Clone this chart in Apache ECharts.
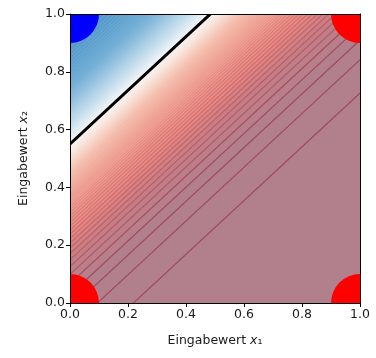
<!DOCTYPE html>
<html>
<head>
<meta charset="utf-8">
<script src="https://cdn.jsdelivr.net/npm/echarts@6/dist/echarts.min.js"></script>
<style>
  html, body { margin: 0; padding: 0; background: #fff; }
  #chart { width: 376px; height: 358px; }
</style>
</head>
<body>
<div id="chart"></div>
<script>
// Trained linear unit: output = sigmoid(w1*x1 + w2*x2 + b)
const weights = [-5.67, 6.1];
const bias = -3.355;

// Training inputs and their target classes (1 = blue, 0 = red)
const inputsX1 = [0, 0, 1, 1];
const inputsX2 = [0, 1, 0, 1];
const targets = [0, 1, 0, 0];

// Filled contour levels of the unit output
const levels = [];
for (let i = 1; i < 100; i++) levels.push(i / 100);

// Colour ramp of the output (position, rgb)
const rampPos = [0.0, 0.034, 0.045, 0.08, 0.131, 0.228, 0.35, 0.454, 0.5, 0.546, 0.65, 0.77, 0.94, 1.0];
const rampRgb = [
  [178, 127, 140], [178, 127, 140], [183, 127, 139], [200, 126, 133],
  [226, 138, 136], [240, 170, 160], [246, 202, 188], [250, 237, 230],
  [248, 248, 248], [226, 238, 245], [182, 213, 233], [124, 180, 217],
  [80, 150, 201], [66, 138, 195]
];

const axisTicks = [0, 0.2, 0.4, 0.6, 0.8, 1.0];

function rampColor(p) {
  let k = 0;
  while (k < rampPos.length - 2 && p > rampPos[k + 1]) k++;
  const t = Math.min(1, Math.max(0, (p - rampPos[k]) / (rampPos[k + 1] - rampPos[k])));
  return rampRgb[k].map((c, j) => c + (rampRgb[k + 1][j] - c) * t);
}
function rgb(c) { return 'rgb(' + c.map(v => Math.round(Math.max(0, Math.min(255, v)))).join(',') + ')'; }
function seamOf(c, f) { return c.map(v => 255 - (255 - v) * f); }

function logit(p) {
  if (p <= 0) return -40;
  if (p >= 1) return 40;
  return Math.log(p / (1 - p));
}
// x2 on the iso-line where the pre-activation equals L
function isoX2(L, x1) { return (L - bias - weights[0] * x1) / weights[1]; }

const bandEdges = [0].concat(levels, [1]);
const bands = [];
for (let i = 0; i < bandEdges.length - 1; i++) bands.push([bandEdges[i], bandEdges[i + 1]]);

const X_LO = -0.3, X_HI = 1.3;

const chart = echarts.init(document.getElementById('chart'), null, { renderer: 'canvas' });

const axisText = { fontFamily: 'DejaVu Sans', fontSize: 12.5, color: '#1a1a1a' };

function axisName(sub) {
  return '{a|Eingabewert }{b|x}{c|' + sub + '}';
}
const nameRich = {
  a: { fontFamily: 'DejaVu Sans', fontSize: 12.5, color: '#1a1a1a' },
  b: { fontFamily: 'DejaVu Sans', fontSize: 12.5, fontStyle: 'italic', color: '#1a1a1a' },
  c: { fontFamily: 'DejaVu Sans', fontSize: 12.5, color: '#1a1a1a' }
};

chart.setOption({
  animation: false,
  backgroundColor: '#fff',
  grid: { left: 70, right: 16, top: 14, bottom: 55 },
  xAxis: [{
    type: 'value', min: 0, max: 1, interval: 0.2, z: 10,
    axisLine: { show: true, onZero: false, lineStyle: { color: '#000', width: 1 } },
    axisTick: { show: true, length: 4, lineStyle: { color: '#000' } },
    axisLabel: Object.assign({ margin: 5, formatter: v => v.toFixed(1) }, axisText),
    splitLine: { show: false },
    name: axisName('₁'), nameLocation: 'middle', nameGap: 31,
    nameTextStyle: { rich: nameRich }
  }, {
    type: 'value', min: 0, max: 1, position: 'top', z: 10,
    axisLine: { show: true, onZero: false, lineStyle: { color: '#000', width: 1 } },
    axisTick: { show: false }, axisLabel: { show: false }, splitLine: { show: false }
  }],
  yAxis: [{
    type: 'value', min: 0, max: 1, interval: 0.2, z: 10,
    axisLine: { show: true, onZero: false, lineStyle: { color: '#000', width: 1 } },
    axisTick: { show: true, length: 4, lineStyle: { color: '#000' } },
    axisLabel: Object.assign({ margin: 5, formatter: v => v.toFixed(1) }, axisText),
    splitLine: { show: false },
    name: axisName('₂'), nameLocation: 'middle', nameGap: 40,
    nameTextStyle: { rich: nameRich }
  }, {
    type: 'value', min: 0, max: 1, position: 'right', z: 10,
    axisLine: { show: true, onZero: false, lineStyle: { color: '#000', width: 1 } },
    axisTick: { show: false }, axisLabel: { show: false }, splitLine: { show: false }
  }],
  series: [
    {
      // filled bands between consecutive output levels
      type: 'custom', clip: true, z: 1,
      data: bands,
      renderItem: function (params, api) {
        const lo = logit(api.value(0)), hi = logit(api.value(1));
        const pts = [
          api.coord([X_LO, isoX2(lo, X_LO)]),
          api.coord([X_HI, isoX2(lo, X_HI)]),
          api.coord([X_HI, isoX2(hi, X_HI)]),
          api.coord([X_LO, isoX2(hi, X_LO)])
        ];
        const c = rgb(rampColor((api.value(0) + api.value(1)) / 2));
        return { type: 'polygon', shape: { points: pts }, style: { fill: c, stroke: c, lineWidth: 0.6 } };
      }
    },
    {
      // contour seams at each level
      type: 'custom', clip: true, z: 2,
      data: levels.map(p => [p, p]),
      renderItem: function (params, api) {
        const p = api.value(0);
        const L = logit(p);
        const pts = [api.coord([X_LO, isoX2(L, X_LO)]), api.coord([X_HI, isoX2(L, X_HI)])];
        const c = rampColor(p);
        const f = p < 0.06 ? 1.5 : (p < 0.5 ? 1.32 : 1.12);
        const seam = seamOf(c, f);
        if (p < 0.06) seam[0] += 14;
        return { type: 'polyline', shape: { points: pts }, style: { stroke: rgb(seam), lineWidth: 1.2, opacity: 0.85, fill: null } };
      }
    },
    {
      // decision boundary (output 0.5)
      type: 'custom', clip: true, z: 3,
      data: [[0.5, 0.5]],
      renderItem: function (params, api) {
        const L = logit(api.value(0));
        const pts = [api.coord([X_LO, isoX2(L, X_LO)]), api.coord([X_HI, isoX2(L, X_HI)])];
        return { type: 'polyline', shape: { points: pts }, style: { stroke: '#000', lineWidth: 3, fill: null } };
      }
    },
    {
      // training inputs
      type: 'custom', clip: true, z: 4,
      data: inputsX1.map((x, i) => [x, inputsX2[i], targets[i]]),
      renderItem: function (params, api) {
        const pt = api.coord([api.value(0), api.value(1)]);
        return {
          type: 'circle', shape: { cx: pt[0], cy: pt[1], r: 29 },
          style: { fill: api.value(2) === 1 ? '#0000ff' : '#ff0000' }
        };
      }
    }
  ]
});
</script>
</body>
</html>
